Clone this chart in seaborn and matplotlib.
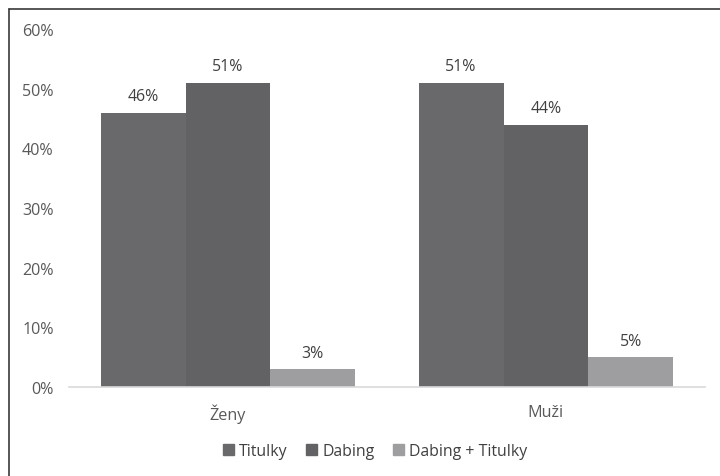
import matplotlib
matplotlib.use("Agg")
import matplotlib.pyplot as plt
from matplotlib.lines import Line2D
from matplotlib.ticker import PercentFormatter
import seaborn as sns
import pandas as pd

groups = ["Ženy", "Muži"]
series = ["Titulky", "Dabing", "Dabing + Titulky"]
titulky = [0.46, 0.51]
dabing = [0.51, 0.44]
dabing_titulky = [0.03, 0.05]
colors = ["#69696b", "#626264", "#9e9ea0"]

rows = []
for name, vals in zip(series, [titulky, dabing, dabing_titulky]):
    for g, v in zip(groups, vals):
        rows.append({"skupina": g, "typ": name, "podil": v})
df = pd.DataFrame(rows)

sns.set_style("white")
plt.rcParams["font.family"] = ["Open Sans", "DejaVu Sans"]

fig = plt.figure(figsize=(7.2, 4.77), dpi=100)
ax = fig.add_axes([0.0958, 0.1866, 0.979 - 0.0958, 0.937 - 0.1866])

sns.barplot(data=df, x="skupina", y="podil", hue="typ", order=groups,
            hue_order=series, palette=colors, width=0.8, saturation=1,
            edgecolor="none", ax=ax, legend=True)

ax.set_ylim(0, 0.6)
ax.set_yticks([0, 0.1, 0.2, 0.3, 0.4, 0.5, 0.6])
ax.yaxis.set_major_formatter(PercentFormatter(1.0, decimals=0))
ax.set_xlim(-0.5, 1.5)
ax.set_xlabel("")
ax.set_ylabel("")
for s in ["top", "right", "left"]:
    ax.spines[s].set_visible(False)
ax.spines["bottom"].set_color("#d9d9d9")
ax.spines["bottom"].set_linewidth(1.2)
ax.tick_params(axis="both", length=0, labelsize=11.6, labelcolor="#595959")
ax.tick_params(axis="y", pad=11)
ax.tick_params(axis="x", pad=12)

for cont in ax.containers:
    ax.bar_label(cont, labels=[f"{v * 100:.0f}%" for v in cont.datavalues],
                 padding=6, fontsize=11.4, color="#404040")

handles = [plt.Rectangle((0, 0), 1, 1, color=c) for c in colors]
ax.get_legend().remove()
fig.legend(handles, series, loc="center", bbox_to_anchor=(0.521, 0.052),
           ncol=3, frameon=False, fontsize=11.4, handlelength=0.7,
           handleheight=0.7, handletextpad=0.3, columnspacing=1.2,
           labelcolor="#404040")

# frame lines along the top and left edge
fig.add_artist(Line2D([9 / 720, 1], [1 - 10 / 477, 1 - 10 / 477],
                      transform=fig.transFigure, color="#3a3a3a", lw=1.2))
fig.add_artist(Line2D([9 / 720, 9 / 720], [0, 1 - 10 / 477],
                      transform=fig.transFigure, color="#3a3a3a", lw=1.2))

fig.savefig("out.png", dpi=100)
